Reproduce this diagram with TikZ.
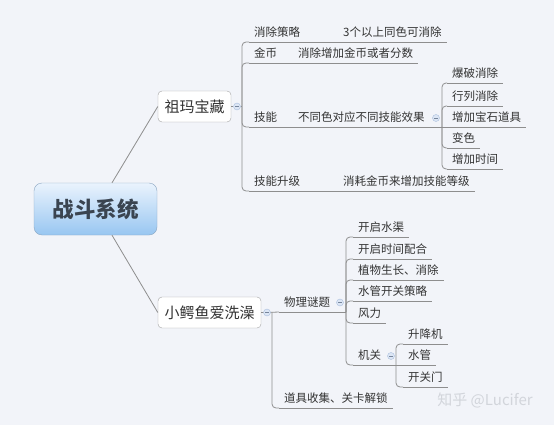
\documentclass[tikz,border=0pt]{standalone}
\usepackage{fontspec}
\setmainfont{Noto Sans CJK SC}
\usepackage{tikz}
\usetikzlibrary{calc}
\definecolor{bgcol}{HTML}{F2F4F9}
\definecolor{linecol}{HTML}{8E8E8E}
\definecolor{textcol}{HTML}{333333}
\definecolor{boxline}{HTML}{A3A3A3}
\definecolor{rootline}{HTML}{8AA6C2}
\definecolor{roottop}{HTML}{EAF3FD}
\definecolor{rootbot}{HTML}{98C6F1}
\definecolor{roottext}{HTML}{3A4450}
\definecolor{btnfill}{HTML}{DCE6F5}
\definecolor{btnline}{HTML}{A9BEDD}
\definecolor{markcol}{HTML}{D2D5DB}
\newcommand{\subfont}{\fontsize{11.5}{13}\selectfont}
\newcommand{\topicfont}{\fontsize{15}{17}\selectfont}
\newcommand{\rootfont}{\fontsize{21.5}{24}\selectfont\bfseries}
\tikzset{
  root/.style={draw=rootline, rounded corners=8pt, top color=roottop, bottom color=rootbot,
               font=\rootfont, text=roottext, minimum width=123pt, minimum height=52pt},
  topic/.style={draw=boxline, fill=white, rounded corners=4pt, font=\topicfont, text=textcol,
                inner xsep=6.5pt, minimum height=31pt},
  sub/.style={anchor=south west, font=\subfont, text=textcol, inner xsep=5pt, inner ysep=0pt,
              text height=9pt, text depth=5.5pt},
  btn/.style={circle, draw=btnline, fill=btnfill, minimum size=7pt, inner sep=0pt,
              path picture={\draw[btnline!70!black, line width=0.5pt]
                ([xshift=-2pt]path picture bounding box.center) -- ([xshift=2pt]path picture bounding box.center);}},
  branch/.style={draw=linecol, line width=0.8pt},
  bus/.style={branch, rounded corners=4pt},
  wmark/.style={font=\fontsize{15}{17}\selectfont, text=markcol}
}
\begin{document}
\begin{tikzpicture}[x=1pt, y=-1pt]
\fill[bgcol] (0,0) rectangle (554,425);
\node[root] (main) at (95.5,209) {战斗系统};
\node[topic] (zm) at (194.5,106.5) {祖玛宝藏};
\node[topic] (xe) at (209.5,312.5) {小鳄鱼爱洗澡};
% 祖玛宝藏
\node[sub] (xccl) at (249,42) {消除策略};
\node[sub] (xcclc) at (338,42) {3个以上同色可消除};
\node[sub] (jb) at (249,63) {金币};
\node[sub] (jbc) at (293,63) {消除增加金币或者分数};
\node[sub] (jn) at (249,127) {技能};
\node[sub] (jnc) at (293,127) {不同色对应不同技能效果};
\node[sub] (bp) at (447,83) {爆破消除};
\node[sub] (lh) at (447,106) {行列消除};
\node[sub] (bs) at (447,127) {增加宝石道具};
\node[sub] (bsc) at (447,148) {变色};
\node[sub] (zs) at (447,169) {增加时间};
\node[sub] (jnsj) at (249,191) {技能升级};
\node[sub] (jnsjc) at (338,191) {消耗金币来增加技能等级};
% 小鳄鱼爱洗澡
\node[sub] (wlmt) at (279,312) {物理谜题};
\node[sub] (kqsq) at (353,237) {开启水渠};
\node[sub] (kqsj) at (353,259) {开启时间配合};
\node[sub] (zwsz) at (353,280) {植物生长、消除};
\node[sub] (sgkg) at (353,301) {水管开关策略};
\node[sub] (fl) at (353,323) {风力};
\node[sub] (jg) at (353,365) {机关};
\node[sub] (sjj) at (403,344) {升降机};
\node[sub] (sg) at (403,365) {水管};
\node[sub] (kgm) at (403,387) {开关门};
\node[sub] (djsj) at (279,408) {道具收集、关卡解锁};
\node[btn] (zmbtn) at (237,106.5) {};
\node[btn] (jnbtn) at (436,118) {};
\node[btn] (xebtn) at (267,312.5) {};
\node[btn] (wlbtn) at (340,302.5) {};
\node[btn] (jgbtn) at (391,356) {};
\coordinate (zmbus) at (242,106.5);
\coordinate (jnbus) at (442,127);
\coordinate (xebus) at (272,312);
\coordinate (wlbus) at (346,312);
\coordinate (jgbus) at (396,365);
\draw[branch] (main.north) ++(16.5,0) -- (zm.west);
\draw[branch] (main.south) ++(16.5,0) -- (xe.west);
\foreach \n in {xccl,xcclc,jb,jbc,jn,jnc,bp,lh,bs,bsc,zs,jnsj,jnsjc,
                wlmt,kqsq,kqsj,zwsz,sgkg,fl,jg,sjj,sg,kgm,djsj}
  \draw[branch] (\n.south west) -- (\n.south east);
\draw[branch] (zm.east) -- (zmbtn) -- (zmbus);
\foreach \c in {xccl,jb,jn,jnsj}
  \draw[bus] (zmbus) |- (\c.south west);
\draw[branch] (xccl.south east) -- (xcclc.south west);
\draw[branch] (jb.south east) -- (jbc.south west);
\draw[branch] (jn.south east) -- (jnc.south west);
\draw[branch] (jnsj.south east) -- (jnsjc.south west);
\draw[branch] (jnc.south east) -- (bs.south west);
\foreach \c in {bp,lh,bsc,zs}
  \draw[bus] (jnbus) |- (\c.south west);
\draw[branch] (xe.east) -- (xebtn) -- (wlmt.south west);
\draw[bus] (xebus) |- (djsj.south west);
\draw[branch] (wlmt.south east) -- (wlbus);
\foreach \c in {kqsq,kqsj,zwsz,sgkg,fl,jg}
  \draw[bus] (wlbus) |- (\c.south west);
\draw[branch] (jg.south east) -- (sg.south west);
\foreach \c in {sjj,kgm}
  \draw[bus] (jgbus) |- (\c.south west);
\node[wmark] (wm) at (485,400) {知乎 @Lucifer};
\end{tikzpicture}
\end{document}
